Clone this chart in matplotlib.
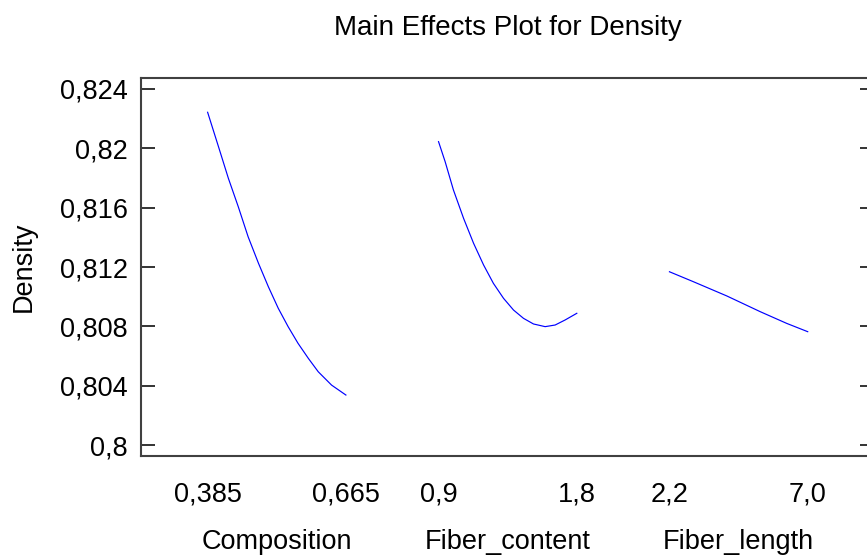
import numpy as np
import matplotlib
matplotlib.use("Agg")
import matplotlib.pyplot as plt

plt.rcParams['font.family'] = ['Liberation Sans', 'DejaVu Sans']

# factor levels (low..high of each factor)
comp_x = [0.385, 0.407, 0.427, 0.447, 0.467, 0.488, 0.508, 0.528, 0.548, 0.568, 0.589, 0.609, 0.636, 0.665]
comp_y = [0.82243, 0.82011, 0.81798, 0.81607, 0.81404, 0.81225, 0.81067, 0.80922, 0.80798, 0.80686, 0.80584, 0.80494, 0.80404, 0.80337]

fc_x = [0.9, 0.943, 0.997, 1.063, 1.128, 1.193, 1.257, 1.323, 1.388, 1.453, 1.518, 1.594, 1.659, 1.724, 1.8]
fc_y = [0.82045, 0.81910, 0.81719, 0.81528, 0.81360, 0.81214, 0.81090, 0.80989, 0.80910, 0.80854, 0.80816, 0.80798, 0.80809, 0.80843, 0.80888]

fl_x = [2.2, 3.03, 4.19, 5.35, 6.27, 7.0]
fl_y = [0.81168, 0.81101, 0.81005, 0.80899, 0.80820, 0.80764]

factors = ['Composition', 'Fiber_content', 'Fiber_length']
lo_labels = ['0,385', '0,9', '2,2']
hi_labels = ['0,665', '1,8', '7,0']
ytick_vals = [0.8, 0.804, 0.808, 0.812, 0.816, 0.82, 0.824]
ytick_labels = ['0,8', '0,804', '0,808', '0,812', '0,816', '0,82', '0,824']

gap = 0.67
margin = 0.482
fs = 19.5
series = [(comp_x, comp_y), (fc_x, fc_y), (fl_x, fl_y)]

fig = plt.figure(figsize=(8.67, 5.57), dpi=100)
ax = fig.add_axes([0.1626, 0.1813, 0.8459, 0.6792])

xt = []
xtl = []
for i, (xs, ys) in enumerate(series):
    start = i * (1 + gap)
    xs = np.array(xs)
    pos = start + (xs - xs[0]) / (xs[-1] - xs[0])
    ax.plot(pos, ys, color='#0000ff', lw=0.85, solid_joinstyle='round')
    xt += [start, start + 1]
    xtl += [lo_labels[i], hi_labels[i]]
    ax.annotate(factors[i], xy=(start + 0.5, 0), xycoords=('data', 'axes fraction'),
                xytext=(0, -67), textcoords='offset points', ha='center', va='baseline',
                fontsize=fs)

ax.set_xlim(-margin, 3 + 2 * gap + margin)
ax.set_ylim(0.79926, 0.82476)
ax.set_xticks(xt)
ax.set_xticklabels(xtl)
ax.set_yticks(ytick_vals)
ax.set_yticklabels(ytick_labels)

ax.tick_params(axis='x', length=0, pad=18.5, labelsize=fs)
ax.tick_params(axis='y', direction='in', length=10, width=1.4, color='#333333',
               right=True, pad=9.5, labelsize=fs)
for sp in ax.spines.values():
    sp.set_linewidth(1.5)
    sp.set_color('#404040')

fig.text(0.5856, 0.937, 'Main Effects Plot for Density', ha='center', va='baseline', fontsize=20)
fig.text(0.0271, 0.5215, 'Density', rotation=90, ha='center', va='center', fontsize=fs)

fig.savefig('out.png', dpi=100)
